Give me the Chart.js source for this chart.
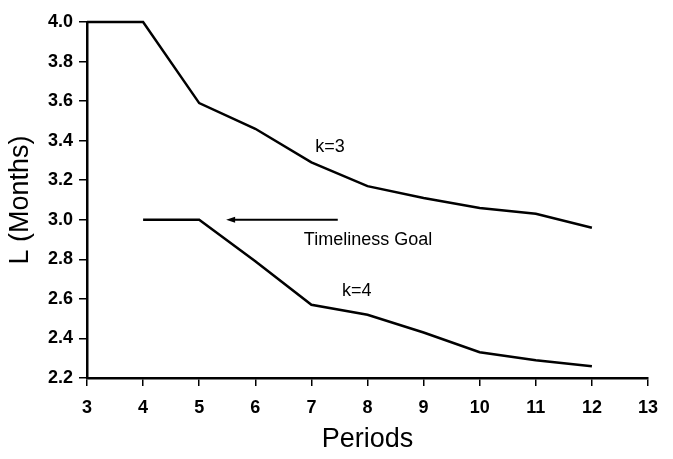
<!DOCTYPE html>
<html>
<head>
<meta charset="utf-8">
<script src="https://cdn.jsdelivr.net/npm/chart.js@4/dist/chart.umd.min.js"></script>
<style>
  html, body { margin: 0; padding: 0; background: #fff; }
  #wrap { width: 673px; height: 459px; position: relative; }
</style>
</head>
<body>
<div id="wrap"><canvas id="grafico"></canvas></div>
<script>
// values
var periodsK3 = [3, 4, 5, 6, 7, 8, 9, 10, 11, 12];
var valuesK3  = [4.0, 4.0, 3.59, 3.46, 3.29, 3.17, 3.11, 3.06, 3.03, 2.96];
var periodsK4 = [4, 5, 6, 7, 8, 9, 10, 11, 12];
var valuesK4  = [3.0, 3.0, 2.79, 2.57, 2.52, 2.43, 2.33, 2.29, 2.26];

// arrow for the timeliness goal (from -> to, at L = 3.0)
var goalArrowX = [7.47, 5.48];
var goalValue = 3.0;

// text labels placed in data units
var notes = [
    { text: 'k=3', x: 7.33, y: 3.37 },
    { text: 'Timeliness Goal', x: 8.01, y: 2.90 },
    { text: 'k=4', x: 7.81, y: 2.64 }
];

var fuente = "'Liberation Sans', Arial, Helvetica, sans-serif";

function toPoints(xs, ys) {
    return xs.map(function (x, i) { return { x: x, y: ys[i] }; });
}

var notasPlugin = {
    id: 'notas',
    afterDatasetsDraw: function (chart) {
        var c = chart.ctx;
        var sx = chart.scales.x, sy = chart.scales.y;
        c.save();
        // arrow
        var x1 = sx.getPixelForValue(goalArrowX[0]);
        var x2 = sx.getPixelForValue(goalArrowX[1]);
        var y = sy.getPixelForValue(goalValue);
        c.strokeStyle = '#000';
        c.fillStyle = '#000';
        c.lineWidth = 2;
        c.beginPath();
        c.moveTo(x1, y);
        c.lineTo(x2 + 6, y);
        c.stroke();
        c.beginPath();
        c.moveTo(x2, y);
        c.lineTo(x2 + 9, y - 3);
        c.lineTo(x2 + 9, y + 3);
        c.closePath();
        c.fill();
        // texts
        c.font = '18px ' + fuente;
        c.textAlign = 'center';
        c.textBaseline = 'middle';
        notes.forEach(function (n) {
            c.fillText(n.text, sx.getPixelForValue(n.x), sy.getPixelForValue(n.y));
        });
        c.restore();
    }
};

var ctx = document.getElementById('grafico').getContext('2d');
var grafico = new Chart(ctx, {
    type: 'line',
    data: {
        datasets: [{
            label: 'k=3',
            data: toPoints(periodsK3, valuesK3),
            borderColor: '#000',
            borderWidth: 2.5,
            pointRadius: 0,
            tension: 0,
            clip: false
        }, {
            label: 'k=4',
            data: toPoints(periodsK4, valuesK4),
            borderColor: '#000',
            borderWidth: 2.5,
            pointRadius: 0,
            tension: 0,
            clip: false
        }]
    },
    options: {
        responsive: true,
        maintainAspectRatio: false,
        animation: false,
        layout: { padding: { top: 22, right: 25, left: 0, bottom: 0 } },
        plugins: {
            legend: { display: false },
            tooltip: { enabled: false }
        },
        scales: {
            x: {
                type: 'linear',
                min: 3,
                max: 13,
                afterFit: function (s) { s.height = 81; },
                ticks: {
                    stepSize: 1,
                    color: '#000',
                    padding: 11,
                    font: { family: fuente, size: 18, weight: 'bold' }
                },
                grid: { drawOnChartArea: false, drawTicks: true, tickLength: 8, color: '#000', lineWidth: 1.5 },
                border: { display: true, color: '#000', width: 2.5 },
                title: {
                    display: true,
                    text: 'Periods',
                    color: '#000',
                    font: { family: fuente, size: 27 },
                    padding: { top: 0, bottom: 3 }
                }
            },
            y: {
                min: 2.2,
                max: 4.0,
                afterFit: function (s) { s.width = 87; },
                ticks: {
                    stepSize: 0.2,
                    color: '#000',
                    padding: 6,
                    font: { family: fuente, size: 18, weight: 'bold' },
                    callback: function (v) { return v.toFixed(1); }
                },
                grid: { drawOnChartArea: false, drawTicks: true, tickLength: 8, color: '#000', lineWidth: 1.5 },
                border: { display: true, color: '#000', width: 2.5 },
                title: {
                    display: true,
                    text: 'L (Months)',
                    color: '#000',
                    font: { family: fuente, size: 27 },
                    padding: { top: 4, bottom: 0 }
                }
            }
        }
    },
    plugins: [notasPlugin]
});
</script>
</body>
</html>
